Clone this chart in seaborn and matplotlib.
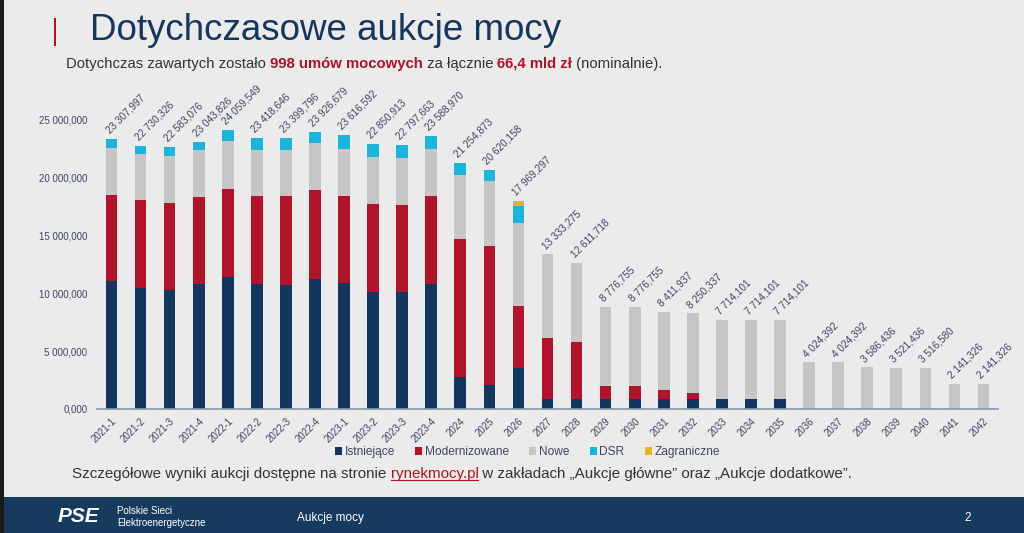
#   capacity auctions chart (slide recreation)
#   stacked bars drawn with seaborn, one cumulative layer per series

import matplotlib
matplotlib.use("Agg")
import matplotlib.pyplot as plt
from matplotlib.patches import Rectangle, Patch
import seaborn as sns
import pandas as pd

    #----------------------------------------------------
    # DATA (values in millions)
    #----------------------------------------------------

okresy = ["2021-1", "2021-2", "2021-3", "2021-4", "2022-1", "2022-2", "2022-3", "2022-4",
          "2023-1", "2023-2", "2023-3", "2023-4", "2024", "2025", "2026", "2027", "2028",
          "2029", "2030", "2031", "2032", "2033", "2034", "2035", "2036", "2037", "2038",
          "2039", "2040", "2041", "2042"]

istniejace = [11.0, 10.45, 10.3, 10.8, 11.4, 10.75, 10.7, 11.25, 10.85, 10.1, 10.05, 10.75,
              2.8, 2.1, 3.5, 0.85, 0.85, 0.85, 0.85, 0.85, 0.85, 0.85, 0.85, 0.85,
              0, 0, 0, 0, 0, 0, 0]
modernizowane = [7.5, 7.55, 7.5, 7.5, 7.6, 7.6, 7.65, 7.65, 7.55, 7.6, 7.55, 7.6,
                 11.9, 12.0, 5.35, 5.25, 4.9, 1.1, 1.1, 0.75, 0.55, 0, 0, 0,
                 0, 0, 0, 0, 0, 0, 0]
nowe = [4.0, 4.0, 4.05, 4.0, 4.1, 4.0, 4.0, 4.05, 4.05, 4.0, 4.05, 4.05,
        5.45, 5.55, 7.2, 7.23, 6.86, 6.83, 6.83, 6.81, 6.85, 6.86, 6.86, 6.86,
        4.02, 4.02, 3.59, 3.52, 3.52, 2.14, 2.14]
dsr = [0.81, 0.73, 0.73, 0.74, 0.96, 1.07, 1.05, 0.98, 1.17, 1.15, 1.15, 1.19,
       1.1, 0.97, 1.5, 0, 0, 0, 0, 0, 0, 0, 0, 0,
       0, 0, 0, 0, 0, 0, 0]
zagraniczne = [0, 0, 0, 0, 0, 0, 0, 0, 0, 0, 0, 0,
               0, 0, 0.42, 0, 0, 0, 0, 0, 0, 0, 0, 0,
               0, 0, 0, 0, 0, 0, 0]

etykiety = ["23 307,997", "22 730,326", "22 583,076", "23 043,826", "24 059,549", "23 418,646",
            "23 399,796", "23 926,679", "23 616,592", "22 850,913", "22 797,663", "23 588,970",
            "21 254,873", "20 620,158", "17 969,297", "13 333,275", "12 611,718", "8 776,755",
            "8 776,755", "8 411,937", "8 250,337", "7 714,101", "7 714,101", "7 714,101",
            "4 024,392", "4 024,392", "3 586,436", "3 521,436", "3 516,580", "2 141,326",
            "2 141,326"]

y_ticks = [0, 5, 10, 15, 20, 25]
y_tick_labels = ["0,000", "5 000,000", "10 000,000", "15 000,000", "20 000,000", "25 000,000"]

serie = ["Istniejące", "Modernizowane", "Nowe", "DSR", "Zagraniczne"]
kolory = ["#13365f", "#b0132a", "#c6c6c6", "#1bb4da", "#e6b31a"]

BG = "#ebebeb"
NAVY = "#173a5f"
TXT = "#3b4660"


    #----------------------------------------------------
    # helper: write text pieces one after the other
    #----------------------------------------------------
def rich_text(fig, x, y, pieces, size):
    fig.canvas.draw()
    renderer = fig.canvas.get_renderer()
    fig_w = fig.bbox.width
    placed = []
    for s, color, weight in pieces:
        t = fig.text(x, y, s, fontsize=size, color=color, weight=weight,
                     va="baseline", ha="left", family="Liberation Sans")
        bb = t.get_window_extent(renderer)
        placed.append(t)
        x += bb.width / fig_w
    return placed


def main():
    plt.rcParams["font.family"] = ["Liberation Sans", "DejaVu Sans"]

    fig = plt.figure(figsize=(10.24, 5.33), dpi=100, facecolor=BG)
    ax = fig.add_axes([97 / 1024, 1 - 409 / 533, 901 / 1024, 313 / 533])
    ax.set_facecolor(BG)

    df = pd.DataFrame({"okres": okresy, "Istniejące": istniejace,
                       "Modernizowane": modernizowane, "Nowe": nowe,
                       "DSR": dsr, "Zagraniczne": zagraniczne})

    # cumulative layers, tallest first
    cum = df[serie].cumsum(axis=1)
    for name, col in reversed(list(zip(serie, kolory))):
        sns.barplot(x=df["okres"], y=cum[name] * 1e6, color=col, saturation=1,
                    width=0.4, order=okresy, ax=ax, errorbar=None)

    totals = cum["Zagraniczne"] * 1e6
    for i, lab in enumerate(etykiety):
        ax.annotate(lab, (i, totals[i]), xytext=(-3, 5), textcoords="offset points",
                    rotation=45, rotation_mode="anchor", ha="left", va="center",
                    fontsize=7.2, color=TXT)

    ax.set_xlim(-0.5, len(okresy) - 0.5)
    ax.set_ylim(0, 27e6)
    ax.set_yticks([v * 1e6 for v in y_ticks])
    ax.set_yticklabels(y_tick_labels, fontsize=7, color=TXT)
    ax.set_xticks(range(len(okresy)))
    ax.set_xticklabels(okresy, rotation=45, ha="right", rotation_mode="anchor",
                       fontsize=7, color=TXT)
    ax.tick_params(axis="y", length=0, pad=7)
    ax.tick_params(axis="x", length=0, pad=5)
    ax.set_xlabel("")
    ax.set_ylabel("")
    for s in ["top", "right", "left"]:
        ax.spines[s].set_visible(False)
    ax.spines["bottom"].set_color("#8595b0")
    ax.spines["bottom"].set_linewidth(1.2)

    handles = [Patch(facecolor=c, label=n) for n, c in zip(serie, kolory)]
    fig.legend(handles=handles, loc="center", bbox_to_anchor=(0.515, 1 - 452 / 533),
               ncol=5, frameon=False, fontsize=8.6, handlelength=0.6, handleheight=0.6,
               handletextpad=0.2, columnspacing=1.7, labelcolor=TXT)

    # slide decorations
    fig.patches.append(Rectangle((0, 0), 1, 36 / 533, transform=fig.transFigure,
                                 facecolor=NAVY, edgecolor="none", zorder=0))
    fig.patches.append(Rectangle((0, 0), 4 / 1024, 1, transform=fig.transFigure,
                                 facecolor="#1a1a1a", edgecolor="none", zorder=0))
    fig.patches.append(Rectangle((54 / 1024, 1 - 46 / 533), 2 / 1024, 28 / 533,
                                 transform=fig.transFigure, facecolor="#b0132a",
                                 edgecolor="none"))

    fig.text(90 / 1024, 1 - 31 / 533, "Dotychczasowe aukcje mocy", fontsize=26.5,
             color="#17365d", va="center", ha="left")

    rich_text(fig, 66 / 1024, 1 - 68 / 533, [
        ("Dotychczas zawartych zostało ", "#333333", "normal"),
        ("998 umów mocowych", "#b0132a", "bold"),
        (" za łącznie ", "#333333", "normal"),
        ("66,4 mld zł", "#b0132a", "bold"),
        (" (nominalnie).", "#333333", "normal"),
    ], 10.7)

    parts = rich_text(fig, 72 / 1024, 1 - 478 / 533, [
        ("Szczegółowe wyniki aukcji dostępne na stronie ", "#333333", "normal"),
        ("rynekmocy.pl", "#b0132a", "normal"),
        (" w zakładach „Aukcje główne” oraz „Aukcje dodatkowe”.", "#333333", "normal"),
    ], 10.9)
    renderer = fig.canvas.get_renderer()
    bb = parts[1].get_window_extent(renderer)
    fig.add_artist(plt.Line2D([bb.x0 / 1024, bb.x1 / 1024],
                              [(bb.y0 + 1) / 533, (bb.y0 + 1) / 533],
                              transform=fig.transFigure, color="#b0132a", lw=0.8))

    # footer banner
    fig.text(58 / 1024, 1 - 517 / 533, "PSE", fontsize=15, weight="bold", color="white",
             va="center", ha="left", style="italic")
    fig.text(117 / 1024, 1 - 511 / 533, "Polskie Sieci", fontsize=7, color="white",
             va="center", ha="left")
    fig.text(117 / 1024, 1 - 523 / 533, "Elektroenergetyczne", fontsize=7, color="white",
             va="center", ha="left")
    fig.text(297 / 1024, 1 - 518 / 533, "Aukcje mocy", fontsize=8.5, color="white",
             va="center", ha="left")
    fig.text(968 / 1024, 1 - 518 / 533, "2", fontsize=8.5, color="white",
             va="center", ha="center")

    fig.savefig("out.png", dpi=100, facecolor=BG)


if __name__ == '__main__':
    main()
